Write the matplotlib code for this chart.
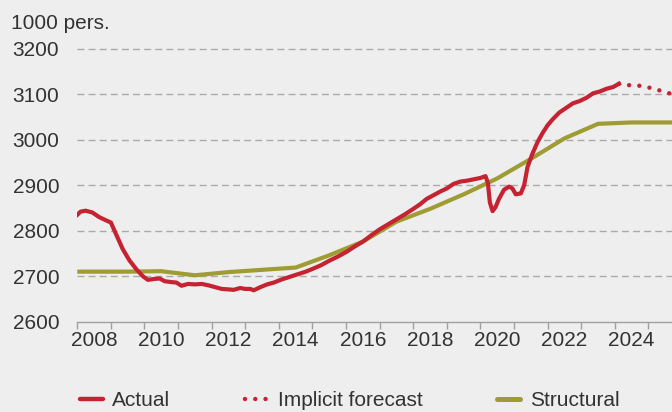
import matplotlib
matplotlib.use("Agg")
import matplotlib.pyplot as plt
from matplotlib.lines import Line2D

plt.rcParams["font.family"] = ["Liberation Sans", "DejaVu Sans"]

# actual employment (year fraction, 1000 persons)
actual_x = [2008.00, 2008.10, 2008.25, 2008.45, 2008.65, 2008.85, 2009.00, 2009.15,
            2009.35, 2009.55, 2009.75, 2009.95, 2010.10, 2010.30, 2010.45, 2010.60,
            2010.80, 2010.95, 2011.10, 2011.30, 2011.50, 2011.70, 2011.90, 2012.10,
            2012.30, 2012.50, 2012.65, 2012.85, 2013.00, 2013.15, 2013.25, 2013.45,
            2013.65, 2013.85, 2014.05, 2014.30, 2014.55, 2014.80, 2015.00, 2015.25,
            2015.50, 2015.75, 2016.00, 2016.25, 2016.50, 2016.75, 2017.00, 2017.25,
            2017.50, 2017.75, 2018.00, 2018.20, 2018.40, 2018.60, 2018.80, 2019.00,
            2019.20, 2019.40, 2019.60, 2019.80, 2020.00, 2020.15, 2020.22, 2020.28,
            2020.36, 2020.45, 2020.55, 2020.70, 2020.85, 2020.95, 2021.05, 2021.20,
            2021.30, 2021.40, 2021.55, 2021.70, 2021.85, 2022.00, 2022.15, 2022.35,
            2022.55, 2022.75, 2022.95, 2023.15, 2023.35, 2023.55, 2023.75, 2023.95,
            2024.12]
actual_y = [2835, 2842, 2844, 2840, 2830, 2823, 2818, 2793,
            2760, 2735, 2716, 2700, 2692, 2694, 2695, 2689,
            2687, 2686, 2679, 2683, 2682, 2683, 2680, 2676,
            2672, 2671, 2670, 2674, 2672, 2672, 2669, 2676,
            2682, 2686, 2692, 2698, 2704, 2710, 2716, 2724,
            2734, 2743, 2753, 2765, 2776, 2790, 2803, 2814,
            2825, 2836, 2848, 2858, 2870, 2878, 2886, 2893,
            2903, 2908, 2910, 2913, 2916, 2920, 2905, 2862,
            2843, 2852, 2870, 2890, 2897, 2893, 2880, 2882,
            2900, 2940, 2970, 2995, 3015, 3032, 3045, 3060,
            3070, 3080, 3085, 3092, 3102, 3106, 3112, 3116,
            3123]

forecast_x = [2024.12, 2024.40, 2024.70, 2024.95, 2025.20, 2025.50, 2025.70, 2025.85]
forecast_y = [3123, 3120, 3119, 3116, 3111, 3105, 3100, 3096]

structural_x = [2008.0, 2008.5, 2009.5, 2010.5, 2011.5, 2012.5, 2013.5, 2014.5, 2015.5,
                2016.5, 2017.5, 2018.5, 2019.5, 2020.5, 2021.5, 2022.5, 2023.5,
                2024.5, 2025.5, 2026.5]
structural_y = [2710, 2710, 2710, 2711, 2702, 2709, 2714, 2719, 2746,
                2776, 2820, 2848, 2880, 2915, 2958, 3003, 3035,
                3038, 3038, 3038]

year_labels = [2008, 2010, 2012, 2014, 2016, 2018, 2020, 2022, 2024]
y_ticks = [2600, 2700, 2800, 2900, 3000, 3100, 3200]

RED = "#c52232"
OLIVE = "#a09c34"
BG = "#eeeeee"
TXT = "#333333"

fig = plt.figure(figsize=(6.72, 4.12), dpi=100, facecolor=BG)
ax = fig.add_axes([0.115, 0.2192, 0.885, 0.6735], facecolor=BG)

ax.plot(structural_x, structural_y, color=OLIVE, lw=3, solid_capstyle="butt", zorder=3)
ax.plot(actual_x, actual_y, color=RED, lw=3, solid_joinstyle="round", zorder=4)
ax.plot(forecast_x, forecast_y, color=RED, lw=3.2, dashes=(0.01, 2.3),
        dash_capstyle="round", zorder=4)

ax.set_xlim(2008, 2025.7)
ax.set_ylim(2600, 3210)

# year boundary ticks, labels centred on each year
ax.set_xticks(range(2008, 2026))
ax.set_xticklabels([])
ax.set_xticks([y + 0.5 for y in year_labels], minor=True)
ax.set_xticklabels([str(y) for y in year_labels], minor=True)
ax.tick_params(axis="x", which="major", direction="out", length=5, width=1, color="#a0a0a0")
ax.tick_params(axis="x", which="minor", length=0, pad=7, labelsize=15, labelcolor=TXT)

ax.set_yticks(y_ticks)
ax.tick_params(axis="y", length=0, pad=13, labelsize=15, labelcolor=TXT)

for v in y_ticks[1:]:
    ax.axhline(v, color="#aaaaaa", lw=1, dashes=(5, 3), zorder=1)

for s in ["top", "right", "left"]:
    ax.spines[s].set_visible(False)
ax.spines["bottom"].set_color("#a0a0a0")
ax.spines["bottom"].set_linewidth(1)

fig.text(0.017, 1 - 29 / 412, "1000 pers.", fontsize=15, color=TXT, va="baseline", ha="left")

handles = [
    Line2D([], [], color=RED, lw=3.2, solid_capstyle="round"),
    Line2D([], [], color=RED, lw=3.2, dashes=(0.01, 2.3), dash_capstyle="round"),
    Line2D([], [], color=OLIVE, lw=3.6, solid_capstyle="round"),
]
fig.legend(handles, ["Actual", "Implicit forecast", "Structural"], ncol=3,
           loc="center left", bbox_to_anchor=(80 / 672, 1 - 401 / 412),
           frameon=False, fontsize=15, handlelength=1.1, handletextpad=0.45,
           columnspacing=3.6, borderpad=0, borderaxespad=0, labelcolor=TXT)

fig.savefig("out.png", dpi=100, facecolor=BG)
